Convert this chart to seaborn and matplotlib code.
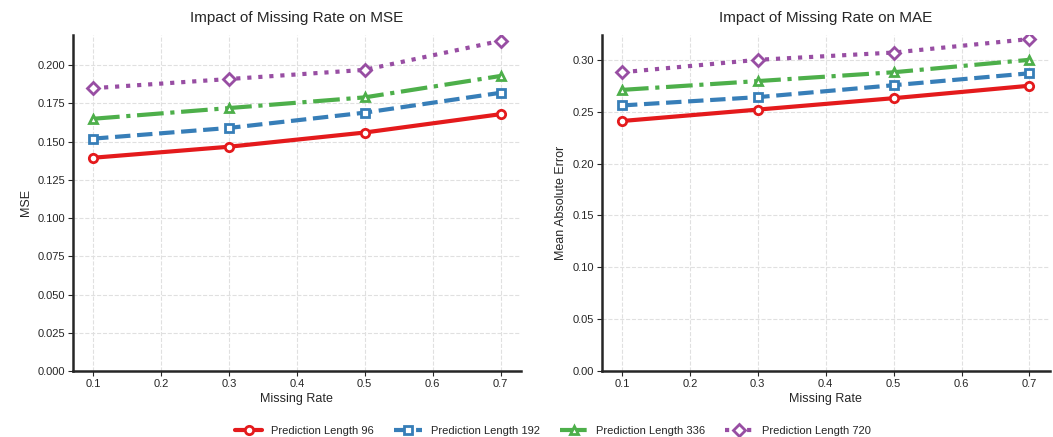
import matplotlib
matplotlib.use("Agg")
import matplotlib.pyplot as plt
import seaborn as sns
import numpy as np

# Values
missing_rate = [0.1, 0.3, 0.5, 0.7]
series_names = ["Prediction Length 96", "Prediction Length 192",
                "Prediction Length 336", "Prediction Length 720"]
mse_96 = [0.1395, 0.1467, 0.156, 0.168]
mse_192 = [0.152, 0.159, 0.169, 0.182]
mse_336 = [0.165, 0.172, 0.179, 0.193]
mse_720 = [0.185, 0.191, 0.197, 0.216]
mae_96 = [0.241, 0.252, 0.263, 0.275]
mae_192 = [0.256, 0.264, 0.2755, 0.287]
mae_336 = [0.271, 0.2795, 0.288, 0.300]
mae_720 = [0.288, 0.300, 0.307, 0.320]

colors = ["#e41a1c", "#377eb8", "#4daf4a", "#984ea3"]
markers = ["o", "s", "^", "D"]
linestyles = ["-", "--", "-.", ":"]

sns.set_style("ticks")
plt.rcParams["font.family"] = ["Liberation Sans", "DejaVu Sans"]

fig, axes = plt.subplots(1, 2, figsize=(10.53, 4.37), dpi=100)
fig.subplots_adjust(left=0.069, right=0.997, top=0.92, bottom=0.151, wspace=0.18)

panels = [
    (axes[0], [mse_96, mse_192, mse_336, mse_720], "Impact of Missing Rate on MSE", "MSE"),
    (axes[1], [mae_96, mae_192, mae_336, mae_720], "Impact of Missing Rate on MAE", "Mean Absolute Error"),
]

for ax, data, title, ylabel in panels:
    for vals, name, c, m, ls in zip(data, series_names, colors, markers, linestyles):
        sns.lineplot(x=missing_rate, y=vals, ax=ax, color=c, marker=m, linestyle=ls,
                     linewidth=3, markersize=6, markerfacecolor="white",
                     markeredgecolor=c, markeredgewidth=2, label=name)
    ax.set_title(title, fontsize=11, pad=9)
    ax.set_xlabel("Missing Rate", fontsize=9, labelpad=3)
    ax.set_ylabel(ylabel, fontsize=9)
    ax.set_ylim(bottom=0)
    ax.grid(True, linestyle="--", color="#e0e0e0", linewidth=0.8)
    ax.tick_params(labelsize=8, pad=2)
    for side in ["left", "bottom"]:
        ax.spines[side].set_linewidth(1.8)
    sns.despine(ax=ax)
    ax.get_legend().remove()

axes[0].set_yticks(np.arange(0, 0.201, 0.025))
axes[0].set_yticklabels([f"{v:.3f}" for v in np.arange(0, 0.201, 0.025)])
axes[1].set_yticks(np.arange(0, 0.301, 0.05))
axes[1].set_yticklabels([f"{v:.2f}" for v in np.arange(0, 0.301, 0.05)])

handles, labels = axes[0].get_legend_handles_labels()
fig.legend(handles, labels, loc="lower center", ncol=4, frameon=False,
           fontsize=8, bbox_to_anchor=(0.525, -0.02), handlelength=2.5, columnspacing=1.8)

fig.savefig("out.png", dpi=100)
